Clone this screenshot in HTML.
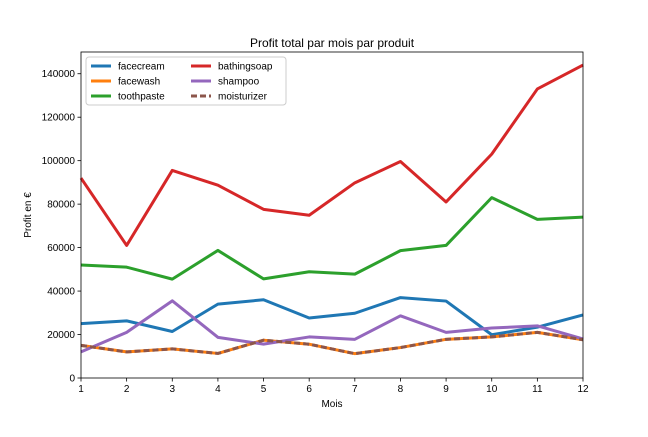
<!DOCTYPE html>
<html><head><meta charset="utf-8"><style>
body{margin:0;background:#fff;font-family:"Liberation Sans","DejaVu Sans",sans-serif}
</style></head><body>
<svg id="chart" width="648" height="432" xmlns="http://www.w3.org/2000/svg" font-family="Liberation Sans, DejaVu Sans, sans-serif">
<rect width="648" height="432" fill="#fff"/>
<text x="332" y="47" text-anchor="middle" font-size="12">Profit total par mois par produit</text>
<text x="332" y="407" text-anchor="middle" font-size="10">Mois</text>
<text transform="translate(31,215) rotate(-90)" text-anchor="middle" font-size="10">Profit en €</text>
<g id="ticks"></g>
<g id="lines"></g>
<rect x="81" y="52" width="502" height="326" fill="none" stroke="#000" stroke-width="0.8"/>
<g id="legend"></g>
</svg>
<script>
const months=[1,2,3,4,5,6,7,8,9,10,11,12];
const facecream=[25000,26300,21400,34000,36000,27600,29800,37000,35400,19900,23400,29000];
const facewash=[15000,12000,13400,11300,17400,15550,11200,14000,17800,18900,21000,17600];
const toothpaste=[52000,51000,45500,58700,45600,48900,47800,58600,61000,83000,73000,74000];
const bathingsoap=[92000,61000,95500,88700,77600,74900,89800,99600,81000,103000,133000,144000];
const shampoo=[12000,21000,35500,18700,15600,18900,17800,28600,21000,23000,24000,18000];
const moisturizer=[15000,12000,13400,11300,17400,15550,11200,14000,17800,18900,21000,17600];
const yTicks=[0,20000,40000,60000,80000,100000,120000,140000];
const NS="http://www.w3.org/2000/svg";
const X0=81,X1=583,Y0=378,Y1=52;
const xs=v=>X0+(v-1)/11*(X1-X0);
const ys=v=>Y0-v/150000*(Y0-Y1);
function mk(t,a,p){const e=document.createElementNS(NS,t);for(const k in a)e.setAttribute(k,a[k]);p.appendChild(e);return e;}
const tg=document.getElementById('ticks');
months.forEach(m=>{
 const l=mk('line',{x1:xs(m),x2:xs(m),y1:Y0,y2:Y0+3.5,stroke:'#000','stroke-width':0.8},tg);
 
 
 const t=mk('text',{x:xs(m),y:Y0+14,'text-anchor':'middle','font-size':10},tg);t.textContent=m;
 
 
});
yTicks.forEach(v=>{
 const l=mk('line',{x1:X0-3.5,x2:X0,y1:ys(v),y2:ys(v),stroke:'#000','stroke-width':0.8},tg);
 
 
 const t=mk('text',{x:X0-6,y:ys(v)+3.5,'text-anchor':'end','font-size':10},tg);t.textContent=v;
 
 
});
const series=[['facecream',facecream,'#1f77b4',''],['facewash',facewash,'#ff7f0e',''],['toothpaste',toothpaste,'#2ca02c',''],['bathingsoap',bathingsoap,'#d62728',''],['shampoo',shampoo,'#9467bd',''],['moisturizer',moisturizer,'#8c564b','6,3']];
const lg=document.getElementById('lines');
series.forEach(s=>{
 const p=mk('polyline',{points:months.map((m,i)=>xs(m)+','+ys(s[1][i])).join(' '),fill:'none',stroke:s[2],'stroke-width':3,'stroke-dasharray':s[3]||'none','stroke-linejoin':'round'},lg);
 
 
});
const leg=document.getElementById('legend');
const box=mk('rect',{x:86,y:57,width:200,height:48,rx:3,fill:'#fff','fill-opacity':0.8,stroke:'#ccc'},leg);


series.forEach((s,i)=>{
 const col=Math.floor(i/3),row=i%3;
 const x=91+col*100,y=66+row*15;
 const l=mk('line',{x1:x,x2:x+20,y1:y,y2:y,stroke:s[2],'stroke-width':3,'stroke-dasharray':s[3]||'none'},leg);
 
 
 const t=mk('text',{x:x+27,y:y+3.5,'font-size':10},leg);t.textContent=s[0];
 
 
});
</script>
</body></html>
